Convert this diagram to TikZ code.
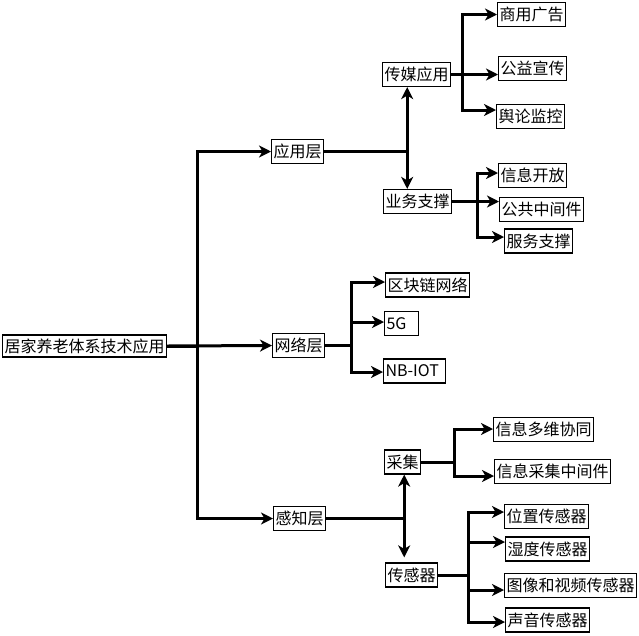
\documentclass[tikz,border=0pt]{standalone}
\usepackage{fontspec}
\setmainfont{Noto Sans CJK SC}
\usetikzlibrary{arrows.meta}

\begin{document}
\begin{tikzpicture}[x=1pt,y=-1pt,
    box_node/.style={draw,line width=1.2pt,fill=white,inner xsep=2pt,inner ysep=0pt,minimum height=24pt,anchor=west,font=\fontsize{16}{16}\selectfont},
    link_line/.style={line width=3pt,-{Stealth[length=12pt,width=12pt,inset=3.5pt]}},
    plain_line/.style={line width=3pt}]
    \useasboundingbox (0,0) rectangle (639,635);
    \node[box_node,minimum height=22pt] (root) at (2,346) {居家养老体系技术应用};
    \node[box_node] (app) at (271,151.5) {应用层};
    \node[box_node] (net) at (272,345.5) {网络层};
    \node[box_node] (sense) at (273,518.5) {感知层};
    \node[box_node] (media) at (382,74.5) {传媒应用};
    \node[box_node] (biz) at (383,201.5) {业务支撑};
    \node[box_node] (ad) at (497,14.5) {商用广告};
    \node[box_node] (pub) at (498,68.5) {公益宣传};
    \node[box_node] (opinion) at (496,116.5) {舆论监控};
    \node[box_node] (open) at (498,175.5) {信息开放};
    \node[box_node] (mid) at (499,209.5) {公共中间件};
    \node[box_node] (serv) at (504,241) {服务支撑};
    \node[box_node] (chain) at (385,285) {区块链网络};
    \node[box_node,text width=30pt,align=left] (g5) at (384,323.5) {5G};
    \node[box_node,text width=58pt,align=left] (nb) at (383,371) {NB-IOT};
    \node[box_node] (collect) at (384,462) {采集};
    \node[box_node] (sensor) at (385,575) {传感器};
    \node[box_node] (multi) at (493,429.5) {信息多维协同};
    \node[box_node] (cmid) at (494,471.5) {信息采集中间件};
    \node[box_node] (pos) at (504,516.5) {位置传感器};
    \node[box_node] (hum) at (505,549) {湿度传感器};
    \node[box_node] (img) at (504,585.5) {图像和视频传感器};
    \node[box_node] (sound) at (505,620) {声音传感器};
    % root
    \draw[link_line] (root.east) -- ++(30,0) |- (app.west);
    \draw[link_line] (root.east) -- ++(30,0) |- (sense.west);
    \draw[link_line] (root.east) -- (net.west);
    % application layer
    \draw[plain_line] (app.east) -- ++(83,0) coordinate (app_fork);
    \draw[link_line] (app_fork) -- (app_fork |- media.south);
    \draw[link_line] (app_fork) -- (app_fork |- biz.north);
    \draw[link_line] (media.east) -- ++(11,0) |- (ad.west);
    \draw[link_line] (media.east) -- ([yshift=-6pt]pub.west);
    \draw[link_line] (media.east) -- ++(11,0) |- ([yshift=6.5pt]opinion.west);
    \draw[link_line] (biz.east) -- ++(25,0) |- ([yshift=2.5pt]open.west);
    \draw[link_line] (biz.east) -- ([yshift=8pt]mid.west);
    \draw[link_line] (biz.east) -- ++(25,0) |- ([yshift=4pt]serv.west);
    % network layer
    \draw[link_line] (net.east) -- ++(26,0) |- ([yshift=3pt]chain.west);
    \draw[link_line] (net.east) -- ++(26,0) |- ([yshift=1.5pt]g5.west);
    \draw[link_line] (net.east) -- ++(26,0) |- ([yshift=-1pt]nb.west);
    % perception layer
    \draw[plain_line] (sense.east) -- ++(78,0) coordinate (sense_fork);
    \draw[link_line] (sense_fork) -- (sense_fork |- collect.south);
    \draw[link_line,shorten >=5pt] (sense_fork) -- (sense_fork |- sensor.north);
    \draw[link_line] (collect.east) -- ++(33,0) |- ([yshift=0.5pt]multi.west);
    \draw[link_line] (collect.east) -- ++(33,0) |- ([yshift=-4.5pt]cmid.west);
    \draw[link_line] (sensor.east) -- ++(30,0) |- ([yshift=4.5pt]pos.west);
    \draw[link_line] (sensor.east) -- ++(30,0) |- ([yshift=7pt]hum.west);
    \draw[link_line] (sensor.east) -- ++(30,0) |- ([yshift=-4.5pt]img.west);
    \draw[link_line] (sensor.east) -- ++(30,0) |- ([yshift=-2pt]sound.west);
\end{tikzpicture}
\end{document}
